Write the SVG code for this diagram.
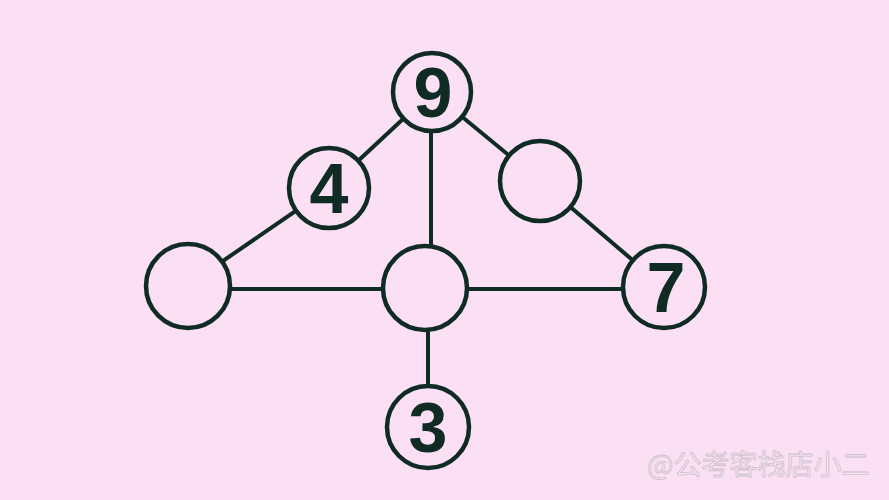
<svg xmlns="http://www.w3.org/2000/svg" width="889" height="500" viewBox="0 0 889 500">
<style>
.n{fill:#fbdff5;stroke:#0f2b24;stroke-width:4.5}
.e{stroke:#0f2b24;stroke-width:4}
.t{font-family:"Liberation Sans",Arial,sans-serif;font-weight:bold;font-size:70px;fill:#0f2b24;text-anchor:middle}
.w{font-family:"Noto Sans CJK SC","Liberation Sans",sans-serif;font-size:28px;fill:#f8e6f4;stroke:#cdbfca;stroke-width:0.8}
</style>
<rect width="889" height="500" fill="#fbdff5"/>
<g id="connectors">
<line class="e" x1="432" y1="92" x2="329" y2="188"/>
<line class="e" x1="329" y1="188" x2="188" y2="285"/>
<line class="e" x1="431" y1="92" x2="431" y2="288"/>
<line class="e" x1="432" y1="92" x2="540" y2="181"/>
<line class="e" x1="540" y1="181" x2="664" y2="287"/>
<line class="e" x1="188" y1="289" x2="664" y2="289"/>
<line class="e" x1="428" y1="288" x2="428" y2="428"/>
</g>
<g id="n9"><circle class="n" cx="432" cy="92" r="39"/><text class="t" x="433" y="117">9</text></g>
<g id="n4"><circle class="n" cx="329" cy="188" r="40"/><text class="t" x="329" y="213">4</text></g>
<g id="nR"><circle class="n" cx="540" cy="181" r="40"/></g>
<g id="nL"><circle class="n" cx="188" cy="286" r="42"/></g>
<g id="nC"><circle class="n" cx="425" cy="288" r="42"/></g>
<g id="n7"><circle class="n" cx="664" cy="287" r="41"/><text class="t" x="666" y="312">7</text></g>
<g id="n3"><circle class="n" cx="428" cy="427" r="41"/><text class="t" x="428" y="452">3</text></g>
<g id="watermark"><text class="w" x="647" y="475">@公考客栈店小二</text></g>
</svg>
